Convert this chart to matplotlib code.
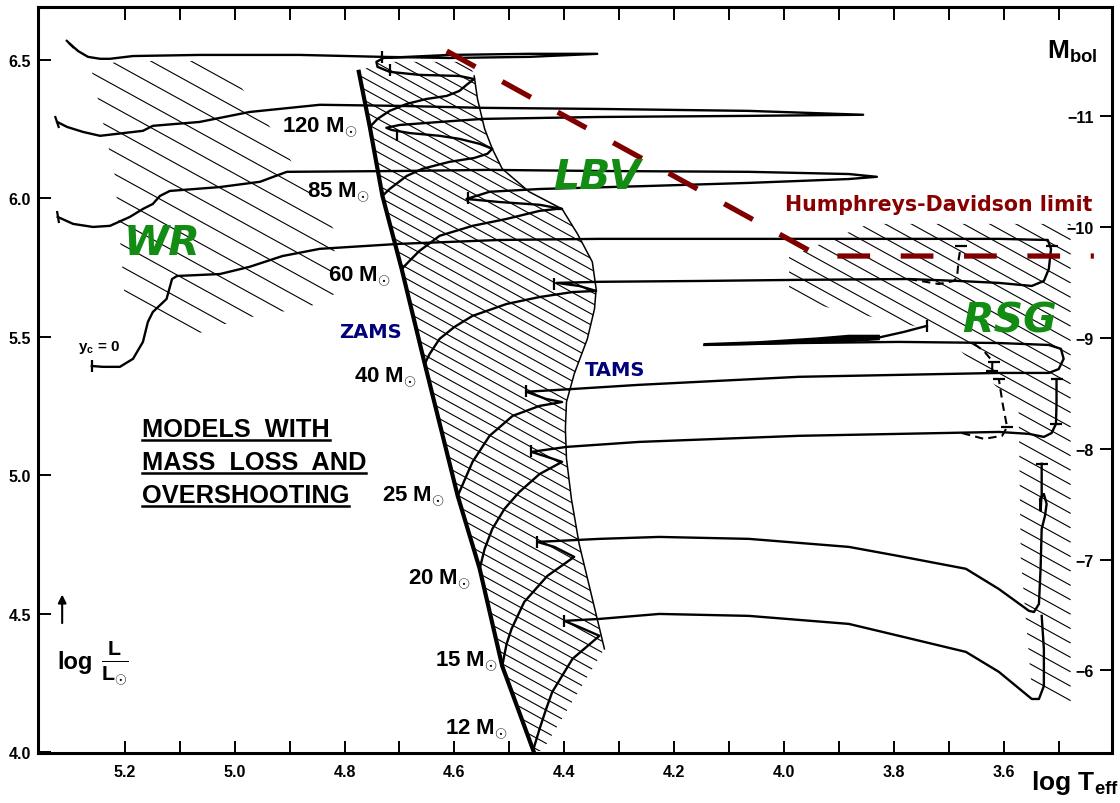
import numpy as np
import matplotlib
matplotlib.use("Agg")
import matplotlib.pyplot as plt
from matplotlib.patches import Polygon
from matplotlib.markers import MarkerStyle
from matplotlib.transforms import Affine2D

plt.rcParams['font.family'] = ['Liberation Sans', 'DejaVu Sans']
plt.rcParams['mathtext.fontset'] = 'custom'
plt.rcParams['mathtext.rm'] = 'Liberation Sans:bold'
plt.rcParams['mathtext.bf'] = 'Liberation Sans:bold'
plt.rcParams['mathtext.it'] = 'Liberation Sans:bold:italic'

# ---------------- data (log Teff, log L/Lsun) ----------------
xlim = (5.358, 3.403)
ylim = (3.998, 6.691)
xticks = [5.2, 5.1, 5.0, 4.9, 4.8, 4.7, 4.6, 4.5, 4.4, 4.3, 4.2, 4.1, 4.0, 3.9, 3.8, 3.7, 3.6, 3.5]
xticklabels = ['5.2', '', '5.0', '', '4.8', '', '4.6', '', '4.4', '', '4.2', '', '4.0', '', '3.8', '', '3.6', '']
yticks = [4.0, 4.5, 5.0, 5.5, 6.0, 6.5]
mbol_ticks = [-11, -10, -9, -8, -7, -6]
mbol_zero = 4.74

zams_logT = [4.774, 4.754, 4.731, 4.696, 4.654, 4.594, 4.554, 4.513, 4.456]
zams_logL = [6.457, 6.258, 6.009, 5.745, 5.403, 4.926, 4.663, 4.312, 4.005]

tams_logT = [4.564, 4.558, 4.545, 4.531, 4.513, 4.464, 4.404, 4.376, 4.349, 4.342, 4.345,
             4.358, 4.382, 4.396, 4.398, 4.396, 4.387, 4.373, 4.351, 4.327]
tams_logL = [6.442, 6.359, 6.251, 6.179, 6.107, 6.024, 5.962, 5.872, 5.771, 5.673, 5.601,
             5.493, 5.366, 5.265, 5.168, 5.060, 4.915, 4.753, 4.572, 4.374]

t120_logT = [4.754, 4.740, 4.718, 4.687, 4.651, 4.614, 4.591, 4.576, 4.564, 4.591, 4.664, 4.718,
             4.740, 4.742, 4.729, 4.609, 4.464, 4.340, 4.464, 4.609, 4.731, 4.882, 5.064, 5.185,
             5.227, 5.245, 5.267, 5.285, 5.300]
t120_logL = [6.258, 6.287, 6.316, 6.341, 6.359, 6.370, 6.388, 6.413, 6.431, 6.442, 6.446, 6.457,
             6.475, 6.493, 6.507, 6.518, 6.522, 6.522, 6.511, 6.507, 6.511, 6.518, 6.518, 6.514,
             6.504, 6.504, 6.511, 6.532, 6.558]

t85_logT = [4.731, 4.718, 4.687, 4.658, 4.609, 4.564, 4.540, 4.531, 4.554, 4.591, 4.627, 4.682,
            4.714, 4.724, 4.700, 4.627, 4.549, 4.336, 4.064, 3.856, 4.064, 4.336, 4.549, 4.700,
            4.845, 4.973, 5.064, 5.149, 5.167, 5.245, 5.276, 5.305, 5.323]
t85_logL = [6.009, 6.034, 6.081, 6.107, 6.132, 6.146, 6.161, 6.179, 6.197, 6.215, 6.226, 6.236,
            6.247, 6.255, 6.265, 6.276, 6.287, 6.294, 6.298, 6.302, 6.316, 6.323, 6.327, 6.334,
            6.338, 6.312, 6.276, 6.262, 6.244, 6.226, 6.240, 6.258, 6.276]

t60_logT = [4.696, 4.682, 4.664, 4.627, 4.567, 4.505, 4.445, 4.414, 4.404, 4.445, 4.518, 4.578,
            4.536, 4.445, 4.245, 4.064, 3.882, 3.831, 3.882, 4.064, 4.336, 4.536, 4.700, 4.905,
            4.954, 5.027, 5.118, 5.136, 5.149, 5.167, 5.191, 5.227, 5.258, 5.294, 5.322]
t60_logL = [5.745, 5.774, 5.810, 5.865, 5.901, 5.926, 5.955, 5.962, 5.962, 5.977, 5.987, 5.998,
            6.024, 6.034, 6.045, 6.056, 6.070, 6.078, 6.088, 6.096, 6.099, 6.103, 6.099, 6.096,
            6.060, 6.041, 6.027, 6.009, 5.980, 5.962, 5.933, 5.901, 5.897, 5.908, 5.933]

t40_logT = [4.654, 4.645, 4.627, 4.600, 4.567, 4.505, 4.445, 4.385, 4.342, 4.373, 4.414, 4.336,
            4.154, 3.973, 3.773, 3.682, 3.609, 3.549, 3.527, 3.518, 3.514, 3.520, 3.609, 3.791,
            3.973, 4.154, 4.336, 4.518, 4.700, 4.845, 4.913, 4.973, 5.027, 5.105, 5.114, 5.124,
            5.149, 5.158, 5.167, 5.185, 5.209, 5.240, 5.260]
t40_logL = [5.403, 5.439, 5.493, 5.536, 5.576, 5.619, 5.644, 5.662, 5.666, 5.684, 5.695, 5.699,
            5.702, 5.706, 5.709, 5.702, 5.695, 5.684, 5.702, 5.745, 5.818, 5.850, 5.854, 5.854,
            5.854, 5.854, 5.854, 5.850, 5.836, 5.818, 5.792, 5.753, 5.727, 5.720, 5.709, 5.637,
            5.590, 5.554, 5.482, 5.421, 5.392, 5.392, 5.395]
t40_dash_logT = [3.773, 3.718, 3.691, 3.685, 3.682, 3.678]
t40_dash_logL = [5.709, 5.691, 5.702, 5.716, 5.782, 5.829]

t25_logT = [4.594, 4.587, 4.567, 4.536, 4.494, 4.445, 4.404, 4.433, 4.469, 4.385, 4.264, 4.154,
            3.973, 3.791, 3.609, 3.518, 3.500, 3.491, 3.496, 3.518, 3.609, 3.791, 3.973, 4.145]
t25_logL = [4.926, 4.958, 5.049, 5.143, 5.215, 5.251, 5.265, 5.276, 5.302, 5.312, 5.327, 5.338,
            5.356, 5.363, 5.370, 5.370, 5.384, 5.421, 5.457, 5.471, 5.478, 5.482, 5.478, 5.471]
t25_loop_logT = [4.145, 4.045, 3.936, 3.882, 3.827, 3.827, 3.882, 3.936, 4.045, 4.145]
t25_loop_logL = [5.475, 5.482, 5.496, 5.505, 5.505, 5.491, 5.484, 5.480, 5.474, 5.471]
t25_end_logT = [3.827, 3.782, 3.740]
t25_end_logL = [5.498, 5.518, 5.540]
t25_dash_logT = [3.654, 3.636, 3.621, 3.621]
t25_dash_logL = [5.475, 5.449, 5.413, 5.377]

t20_logT = [4.554, 4.545, 4.531, 4.509, 4.482, 4.445, 4.404, 4.436, 4.460, 4.396, 4.264, 3.973,
            3.791, 3.609, 3.554, 3.527, 3.513, 3.505, 3.504, 3.504]
t20_logL = [4.663, 4.735, 4.807, 4.879, 4.940, 5.005, 5.049, 5.070, 5.085, 5.103, 5.121, 5.143,
            5.150, 5.157, 5.150, 5.139, 5.153, 5.186, 5.258, 5.348]
t20_dash_logT = [3.676, 3.636, 3.603, 3.594, 3.602, 3.609]
t20_dash_logL = [5.153, 5.132, 5.143, 5.175, 5.258, 5.348]

t15_logT = [4.513, 4.505, 4.496, 4.473, 4.431, 4.382, 4.418, 4.449, 4.336, 4.227, 4.064, 3.882,
            3.791, 3.669, 3.609, 3.554, 3.545, 3.536, 3.533, 3.531, 3.525, 3.522, 3.527, 3.534,
            3.533, 3.531, 3.531]
t15_logL = [4.312, 4.392, 4.446, 4.543, 4.637, 4.706, 4.742, 4.760, 4.771, 4.778, 4.771, 4.742,
            4.709, 4.663, 4.590, 4.511, 4.507, 4.536, 4.663, 4.807, 4.854, 4.897, 4.933, 4.915,
            4.872, 4.933, 5.042]

t12_logT = [4.456, 4.445, 4.433, 4.422, 4.385, 4.336, 4.373, 4.400, 4.336, 4.227, 4.064, 3.882,
            3.791, 3.669, 3.609, 3.549, 3.536, 3.527, 3.527, 3.531]
t12_logL = [4.013, 4.085, 4.157, 4.218, 4.338, 4.421, 4.453, 4.475, 4.482, 4.500, 4.493, 4.464,
            4.421, 4.363, 4.291, 4.193, 4.193, 4.240, 4.374, 4.493]

# short bars marking ends of phases
bar_logT = [4.731, 4.718, 4.704, 4.576, 4.418, 4.469, 4.460, 4.449, 4.400, 3.740]
bar_logL = [6.511, 6.464, 6.229, 6.000, 5.691, 5.305, 5.089, 4.760, 4.475, 5.540]
hbar_logT = [3.531, 3.504, 3.609, 3.513, 3.678, 3.594, 3.505, 3.618, 3.621]
hbar_logL = [5.042, 5.348, 5.348, 5.829, 5.829, 5.175, 5.186, 5.410, 5.377]
wr_end_logT = [5.300, 5.323, 5.322, 5.260]
wr_end_logL = [6.558, 6.276, 5.933, 5.395]

# Humphreys-Davidson limit
hd_logT = [4.614, 3.936, 3.436]
hd_logL = [6.532, 5.792, 5.792]

# hatched regions (outlines)
wr_reg_logT = [5.260, 5.213, 5.024, 4.945, 4.818, 4.818, 4.864, 4.991, 5.094, 5.200, 5.218, 5.245]
wr_reg_logL = [6.460, 6.496, 6.496, 6.287, 5.883, 5.655, 5.608, 5.565, 5.493, 5.637, 6.081, 6.323]
rsg_reg_logT = [3.845, 3.478, 3.478, 3.549, 3.569, 3.573, 3.713, 3.991, 3.991]
rsg_reg_logL = [5.908, 5.908, 4.175, 4.229, 4.699, 5.240, 5.518, 5.637, 5.789]

mass_labels = ['120', '85', '60', '40', '25', '20', '15', '12']
mass_lab_logT = [4.913, 4.868, 4.831, 4.782, 4.731, 4.685, 4.636, 4.618]
mass_lab_logL = [6.258, 6.024, 5.720, 5.355, 4.926, 4.626, 4.330, 4.085]

# ---------------- figure ----------------
fig = plt.figure(figsize=(11.2, 8.04), dpi=100)
ax = fig.add_axes([38 / 1120, 50 / 804, 1074 / 1120, 746 / 804])
ax.set_xlim(*xlim)
ax.set_ylim(*ylim)

K = 0.55 * 550 / 277  # hatch slope in data units


def hatch(tx, ty, step, lw=0.8):
    poly = Polygon(np.column_stack([tx, ty]), closed=True, fill=False,
                   edgecolor='none', transform=ax.transData)
    ax.add_patch(poly)
    t0, t1 = min(tx), max(tx)
    l0, l1 = min(ty), max(ty)
    for c in np.arange(l0 - K * (t1 - t0) - step, l1 + step, step):
        ln, = ax.plot([t0, t1], [c, c + K * (t1 - t0)], color='k', lw=lw,
                      solid_capstyle='butt')
        ln.set_clip_path(poly)


ms_T = zams_logT + [4.440] + tams_logT[::-1] + [4.573, 4.736]
ms_L = zams_logL + [4.005] + tams_logL[::-1] + [6.493, 6.493]
hatch(ms_T, ms_L, 0.040)
hatch(wr_reg_logT, wr_reg_logL, 0.080)
hatch(rsg_reg_logT, rsg_reg_logL, 0.052)

ax.plot(zams_logT, zams_logL, color='k', lw=3.0)
ax.plot(tams_logT, tams_logL, color='k', lw=1.1)

tk = dict(color='k', lw=1.7, solid_joinstyle='round')
for tx, ty in [(t120_logT, t120_logL), (t85_logT, t85_logL), (t60_logT, t60_logL),
               (t40_logT, t40_logL), (t25_logT, t25_logL), (t20_logT, t20_logL),
               (t15_logT, t15_logL), (t12_logT, t12_logL), (t25_end_logT, t25_end_logL)]:
    ax.plot(tx, ty, **tk)
ax.fill(t25_loop_logT, t25_loop_logL, color='k', lw=1.2)
for tx, ty in [(t40_dash_logT, t40_dash_logL), (t25_dash_logT, t25_dash_logL),
               (t20_dash_logT, t20_dash_logL)]:
    ax.plot(tx, ty, color='k', lw=1.5, ls=(0, (4, 2.5)))

ax.plot(bar_logT, bar_logL, ls='none', marker='|', ms=9, mew=1.6, color='k')
ax.plot(hbar_logT, hbar_logL, ls='none', marker='_', ms=8, mew=1.6, color='k')
for x, y, a in zip(wr_end_logT, wr_end_logL, [45, 20, 5, 0]):
    ax.plot([x], [y], ls='none', color='k', mew=1.6, ms=9,
            marker=MarkerStyle('|', transform=Affine2D().rotate_deg(a)))

ax.plot(hd_logT, hd_logL, color='#800000', lw=3.8, ls=(0, (6.2, 5.8)),
        solid_capstyle='butt', dash_capstyle='butt')

# ---------------- axes styling ----------------
for s in ax.spines.values():
    s.set_linewidth(2.2)
ax.set_xticks(xticks)
ax.set_xticklabels(xticklabels)
ax.set_yticks(yticks)
ax.set_yticklabels([f'{v:.1f}' for v in yticks])
ax.tick_params(axis='both', direction='in', length=9, width=1.4, top=True,
               labelsize=11.5, pad=5)
ax.tick_params(axis='x', pad=8)
for lab in ax.get_xticklabels() + ax.get_yticklabels():
    lab.set_fontweight('bold')

ax2 = ax.twinx()
ax2.set_ylim(mbol_zero - 2.5 * ylim[0], mbol_zero - 2.5 * ylim[1])
ax2.set_yticks(mbol_ticks)
ax2.set_yticklabels([f'\u2212{abs(v)}' for v in mbol_ticks])
ax2.tick_params(axis='y', direction='in', length=9, width=1.4, labelsize=11.5, pad=-13)
for lab in ax2.get_yticklabels():
    lab.set_fontweight('bold')
    lab.set_horizontalalignment('right')
for s in ax2.spines.values():
    s.set_visible(False)

# ---------------- texts ----------------
green = '#138c13'
big = dict(color=green, fontsize=29.5, fontweight='bold', fontstyle='italic',
           family='DejaVu Sans', ha='center', va='center')
ax.text(5.132, 5.840, 'WR', **big)
ax.text(4.340, 6.078, 'LBV', **big)
ax.text(3.590, 5.558, 'RSG', **big)
ax.text(3.999, 5.980, 'Humphreys-Davidson limit', color='#880000', fontsize=14.8,
        fontweight='bold', family='DejaVu Sans', ha='left', va='center')
ax.text(4.809, 5.518, 'ZAMS', color='#00007a', fontsize=14, fontweight='bold',
        family='DejaVu Sans', ha='left', va='center')
ax.text(4.363, 5.384, 'TAMS', color='#00007a', fontsize=14, fontweight='bold',
        family='DejaVu Sans', ha='left', va='center')

for m, x, y in zip(mass_labels, mass_lab_logT, mass_lab_logL):
    ax.text(x, y, m + r' M$_{\odot}$', fontsize=16, fontweight='bold', ha='left',
            va='center')

ax.text(5.285, 5.467, r'$\mathbf{y}_{\mathbf{c}}$ = 0', fontsize=11, fontweight='bold',
        ha='left', va='center')

title_lines = ['MODELS  WITH', 'MASS  LOSS  AND', 'OVERSHOOTING']
title_y = [5.143, 5.023, 4.904]
ttxt = [ax.text(5.169, y, s, fontsize=18.3, fontweight='bold', ha='left', va='baseline')
        for s, y in zip(title_lines, title_y)]

ax.text(5.323, 4.327, 'log', fontsize=17, fontweight='bold', ha='left', va='center')
ax.text(5.243, 4.327, r'$\frac{\mathbf{L}}{\mathbf{L}_{\odot}}$', fontsize=22,
        ha='left', va='center')
ax.annotate('', xy=(5.314, 4.580), xytext=(5.314, 4.457),
            arrowprops=dict(arrowstyle='-|>', color='k', lw=1.5, mutation_scale=12))

ax.text(3.475, 6.532, r'M$_{\mathbf{bol}}$', fontsize=19, fontweight='bold',
        ha='center', va='center')
ax.text(3.470, 3.892, r'log T$_{\mathbf{eff}}$', fontsize=19, fontweight='bold',
        ha='center', va='center', clip_on=False)

fig.canvas.draw()
r = fig.canvas.get_renderer()
inv = ax.transData.inverted()
for t in ttxt:
    bb = t.get_window_extent(renderer=r)
    (x0, y0), (x1, _) = inv.transform([[bb.x0, bb.y0 + 1], [bb.x1, bb.y0 + 1]])
    ax.plot([x0, x1], [y0, y0], color='k', lw=1.8)

fig.savefig('out.png', dpi=100)
